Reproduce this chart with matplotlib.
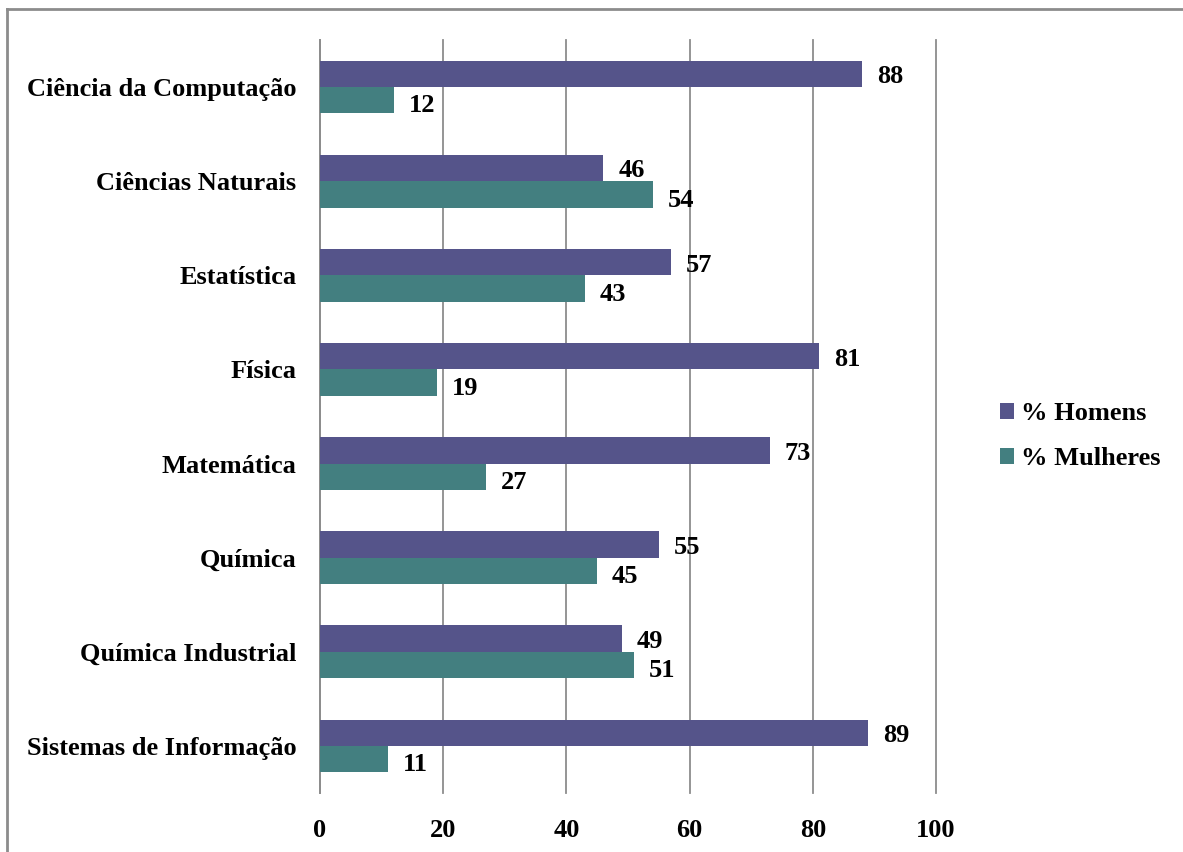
import matplotlib.pyplot as plt
from matplotlib.lines import Line2D
import numpy as np

cursos = ["Ciência da Computação", "Ciências Naturais", "Estatística", "Física",
          "Matemática", "Química", "Química Industrial", "Sistemas de Informação"]
homens = [88, 46, 57, 81, 73, 55, 49, 89]
mulheres = [12, 54, 43, 19, 27, 45, 51, 11]
ticks = [0, 20, 40, 60, 80, 100]

plt.rcParams['font.family'] = ['Liberation Serif', 'DejaVu Serif']
plt.rcParams['font.weight'] = 'bold'
fs = 19

fig = plt.figure(figsize=(11.83, 8.52), dpi=100)
ax = fig.add_axes([0.2705, 0.0692, 0.5207, 0.8838])

y = np.arange(len(cursos))
h = 0.28
cor_h = "#55548A"
cor_m = "#437F80"
b1 = ax.barh(y - h / 2, homens, height=h, color=cor_h, label="% Homens", zorder=3)
b2 = ax.barh(y + h / 2, mulheres, height=h, color=cor_m, label="% Mulheres", zorder=3)

for v, yy in zip(homens, y - h / 2):
    ax.text(v + 2.4, yy + 0.03, str(v), va="center", ha="left", fontsize=fs, fontweight="bold")
for v, yy in zip(mulheres, y + h / 2):
    ax.text(v + 2.4, yy + 0.06, str(v), va="center", ha="left", fontsize=fs, fontweight="bold")

ax.set_ylim(len(cursos) - 0.5, -0.5)
ax.set_xlim(0, 100)
ax.set_yticks(y)
ax.set_yticklabels(cursos, fontsize=fs, fontweight="bold")
ax.set_xticks(ticks)
ax.set_xticklabels([str(t) for t in ticks], fontsize=fs, fontweight="bold")
ax.tick_params(axis="y", length=0, pad=17)
ax.tick_params(axis="x", length=0, pad=19)
ax.grid(axis="x", color="#8c8c8c", linewidth=1.3, zorder=0)
for gl in ax.get_xgridlines():
    gl.set_clip_on(False)
for s in ["top", "right", "bottom"]:
    ax.spines[s].set_visible(False)
ax.spines["left"].set_color("#8c8c8c")
ax.spines["left"].set_linewidth(1.3)

fig.legend(handles=[b1, b2], loc="center left", bbox_to_anchor=(0.825, 0.488),
           frameon=False, handlelength=0.55, handleheight=0.55,
           handletextpad=0.25, labelspacing=0.85, prop={"weight": "bold", "size": 19})

# moldura: só as linhas de cima e da esquerda aparecem
fig.add_artist(Line2D([0.0055, 1.0], [0.9895, 0.9895], transform=fig.transFigure,
                      color="#8c8c8c", linewidth=2))
fig.add_artist(Line2D([0.0055, 0.0055], [0.0, 0.9895], transform=fig.transFigure,
                      color="#8c8c8c", linewidth=2))

fig.savefig("out.png", dpi=100)
